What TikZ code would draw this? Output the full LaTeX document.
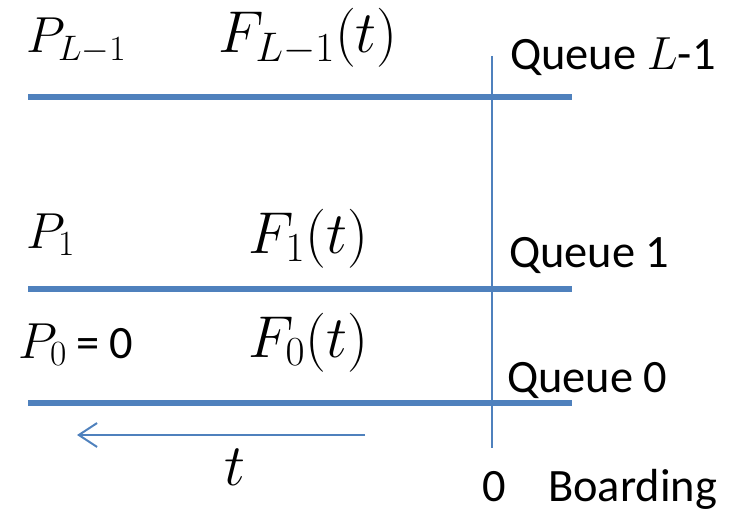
\RequirePackage{fix-cm}
\documentclass[tikz,border=0pt]{standalone}
\usepackage{fontspec}
\newfontfamily\calibri{Carlito}
\usepackage{amsmath}
\usetikzlibrary{arrows.meta}
\definecolor{laneblue}{RGB}{79,129,189}

\begin{document}
\begin{tikzpicture}[x=0.025cm,y=-0.025cm,
  lane/.style={draw=laneblue, line width=3.6pt},
  txt/.style={inner sep=0pt, anchor=base west},
  ptext/.style={txt, font=\fontsize{36}{42}\selectfont},
  ftext/.style={txt, font=\fontsize{42}{48}\selectfont},
  qtext/.style={txt, font=\calibri\fontsize{33}{39}\selectfont}]
\useasboundingbox (0,0) rectangle (734,511);
%%%%%%%%%%%%%%%%%%%
\coordinate (topA) at (28,97);   \coordinate (topB) at (572,97);
\coordinate (midA) at (28,289);  \coordinate (midB) at (572,289);
\coordinate (lowA) at (28,403);  \coordinate (lowB) at (572,403);
\coordinate (boardTop) at (492,56); \coordinate (boardBot) at (492,448);
\coordinate (timeR) at (365,435); \coordinate (timeL) at (77,435);
\draw[lane] (topA) -- (topB);
\draw[lane] (midA) -- (midB);
\draw[lane] (lowA) -- (lowB);
\draw[draw=laneblue, line width=1.6pt] (boardTop) -- (boardBot);
\draw[draw=laneblue, line width=1.4pt, -{Straight Barb[length=13pt,width=17pt]}] (timeR) -- (timeL);

%%%%%%%%%%%%%%%%%%%%%
\node[ptext] (pTop) at (26,53) {$P_{L-1}$};
\node[ftext] (fTop) at (218,53) {$F_{L-1}(t)$};
\node[ptext] (pMid) at (26,248) {$P_1$};
\node[ftext] (fMid) at (248,253) {$F_1(t)$};
\node[ptext] (pLow) at (18,358) {$P_0$};
\node[qtext] (pZero) at (76,358) {= 0};
\node[ftext] (fLow) at (248,357) {$F_0(t)$};
\node[ftext, anchor=base] (tLab) at (235,485) {$t$};

%%%%%%%%%%%%%%%%%%%
\node[qtext] (qTop) at (510,70) {Queue $L$-1};
\node[qtext] (qMid) at (509,267) {Queue 1};
\node[qtext] (qLow) at (507,392) {Queue 0};
\node[qtext] (zero) at (482,501) {0};
\node[qtext] (board) at (548,501) {Boarding};
\end{tikzpicture}
\end{document}
